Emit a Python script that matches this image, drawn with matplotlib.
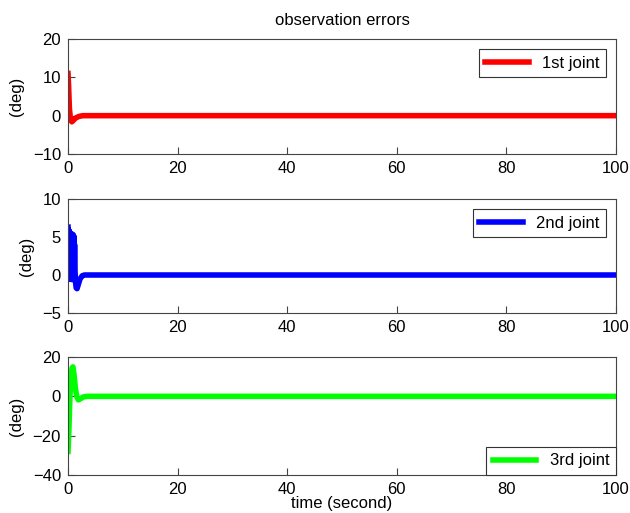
import matplotlib.pyplot as plt

plt.rcParams['font.family'] = ['Liberation Sans', 'DejaVu Sans']

# 1st joint observation error (deg)
t1 = [0, 0.1, 0.25, 0.45, 0.7, 1.0, 1.4, 2.0, 2.7, 4.0, 10, 100]
e1 = [11, 8, 2.0, -1.0, -1.6, -1.2, -0.6, -0.2, 0.0, 0.0, 0.0, 0.0]

# 2nd joint observation error (deg), fast oscillation at the start
t2 = [0, 0.05, 0.1, 0.15, 0.2, 0.25, 0.3, 0.35, 0.4, 0.45, 0.5, 0.55, 0.6,
      0.65, 0.7, 0.75, 0.8, 0.85, 0.9, 0.95, 1.0, 1.05, 1.1, 1.15, 1.2,
      1.25, 1.35, 1.5, 1.65, 1.9, 2.2, 2.6, 3.0, 4.0, 10, 100]
e2 = [6.3, 0.5, 6.0, 0.0, 5.8, -0.3, 5.6, -0.5, 5.5, -0.5, 5.5, -0.4, 5.4,
      -0.6, 5.4, -0.5, 5.3, -0.4, 5.3, -0.6, 5.2, -0.6, 5.0, -0.5, 4.0,
      0.5, -0.8, -1.7, -1.8, -1.2, -0.5, -0.1, 0.0, 0.0, 0.0, 0.0]

# 3rd joint observation error (deg)
t3 = [0, 0.15, 0.35, 0.55, 0.75, 0.9, 1.1, 1.35, 1.6, 1.9, 2.3, 2.8, 3.5, 10, 100]
e3 = [-28, -18, 0, 10, 14.5, 15, 11, 4, 0, -1.8, -1.2, -0.3, 0.0, 0.0, 0.0]

labels = ['1st joint', '2nd joint', '3rd joint']
colors = ['#ff0000', '#0000ff', '#00ff00']
ylims = [(-10, 20), (-5, 10), (-40, 20)]
yticks = [[-10, 0, 10, 20], [-5, 0, 5, 10], [-40, -20, 0, 20]]
legend_locs = ['upper right', 'upper right', 'lower right']

fig = plt.figure(figsize=(6.3, 5.13), dpi=100)
W, H = 630, 513
boxes = [(39, 154), (199, 313), (357, 475)]
series = [(t1, e1), (t2, e2), (t3, e3)]

for i, (top, bot) in enumerate(boxes):
    ax = fig.add_axes([68 / W, 1 - bot / H, (616 - 68) / W, (bot - top) / H])
    t, e = series[i]
    ax.plot(t, e, color=colors[i], lw=4, label=labels[i])
    ax.set_xlim(0, 100)
    ax.set_ylim(*ylims[i])
    ax.set_yticks(yticks[i])
    ax.set_xticks([0, 20, 40, 60, 80, 100])
    ax.tick_params(direction='in', labelsize=12, length=5, pad=5, color='#444444')
    for s in ax.spines.values():
        s.set_color('#444444')
        s.set_linewidth(0.8)
    ax.set_ylabel('(deg)', fontsize=12, labelpad=6)
    leg = ax.legend(loc=legend_locs[i], fontsize=12, fancybox=False,
                    framealpha=1, handlelength=2.6,
                    borderaxespad=0.0 if i == 2 else 0.6)
    leg.get_frame().set_edgecolor('#333333')
    leg.get_frame().set_linewidth(0.8)
    if i == 0:
        ax.set_title('observation errors', fontsize=12, pad=10)
    if i == 2:
        ax.set_xlabel('time (second)', fontsize=12, labelpad=-1)

fig.savefig('out.png', dpi=100)
